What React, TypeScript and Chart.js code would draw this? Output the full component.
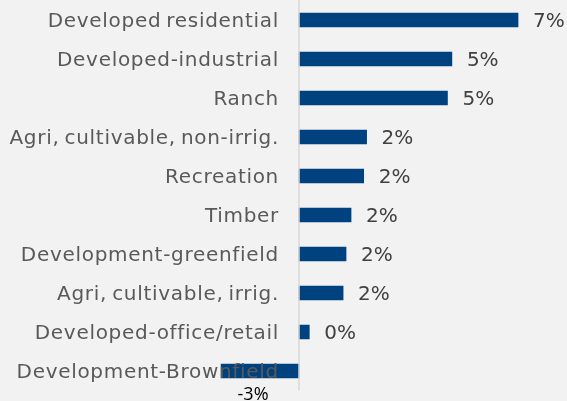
import React, { useEffect, useRef } from "react";
import { Chart, registerables } from "chart.js";

Chart.register(...registerables);

const categories = [
  "Developed residential",
  "Developed-industrial",
  "Ranch",
  "Agri, cultivable, non-irrig.",
  "Recreation",
  "Timber",
  "Development-greenfield",
  "Agri, cultivable, irrig.",
  "Developed-office/retail",
  "Development-Brownfield",
];
const changePct = [7.45, 5.2, 5.05, 2.3, 2.2, 1.77, 1.6, 1.5, 0.35, -2.65];
const xMin = -5;
const xMax = 9;

const BAR_COLOR = "#00427F";
const BG = "#f2f2f2";

const labelPlugin = {
  id: "customLabels",
  afterDatasetsDraw(chart: any) {
    const ctx = chart.ctx as any;
    const xs = chart.scales.x;
    const ys = chart.scales.y;
    const zero = xs.getPixelForValue(0);
    const area = chart.chartArea;
    ctx.save();
    // zero axis line
    ctx.strokeStyle = "#d9d9d9";
    ctx.lineWidth = 1.5;
    ctx.beginPath();
    ctx.moveTo(zero, 0);
    ctx.lineTo(zero, area.bottom);
    ctx.stroke();

    // category labels
    ctx.font = "20px 'DejaVu Sans'";
    ctx.fillStyle = "#595959";
    ctx.textAlign = "right";
    ctx.textBaseline = "alphabetic";
    ctx.letterSpacing = "0.7px";
    ctx.wordSpacing = "-2px";
    categories.forEach((c, i) => {
      ctx.fillText(c, zero - 20, ys.getPixelForValue(i) + 6.7);
    });
    ctx.letterSpacing = "0px";
    ctx.wordSpacing = "0px";

    // value labels
    changePct.forEach((v, i) => {
      const y = ys.getPixelForValue(i);
      const txt = Math.round(v) + "%";
      if (v >= 0) {
        ctx.font = "20px 'DejaVu Sans'";
        ctx.fillStyle = "#404040";
        ctx.textAlign = "left";
        ctx.fillText(txt, xs.getPixelForValue(v) + 15, y + 6.7);
      } else {
        ctx.font = "18px 'Open Sans'";
        ctx.fillStyle = "#000000";
        ctx.textAlign = "center";
        const cx = (xs.getPixelForValue(v) + zero) / 2 - 7;
        ctx.fillText(txt, cx, y + 29);
      }
    });
    ctx.restore();
  },
};

export default function App() {
  const canvasRef = useRef<HTMLCanvasElement | null>(null);

  useEffect(() => {
    document.body.style.margin = "0";
    document.body.style.background = BG;
    const canvas = canvasRef.current;
    if (!canvas) return;
    const chart = new Chart(canvas, {
      type: "bar",
      data: {
        labels: categories,
        datasets: [
          {
            data: changePct,
            backgroundColor: BAR_COLOR,
            borderWidth: 0,
            barThickness: 14,
          },
        ],
      },
      options: {
        indexAxis: "y",
        responsive: false,
        animation: false,
        devicePixelRatio: 1,
        layout: {
          padding: { left: 152, right: 3.4, top: 0.5, bottom: 10.5 },
        },
        plugins: {
          legend: { display: false },
          tooltip: { enabled: false },
        },
        scales: {
          x: { type: "linear", min: xMin, max: xMax, display: false },
          y: { type: "category", display: false },
        },
      },
      plugins: [labelPlugin],
    });
    return () => chart.destroy();
  }, []);

  return (
    <div
      style={{
        position: "fixed",
        left: 0,
        top: 0,
        width: 567,
        height: 401,
        background: BG,
      }}
    >
      <canvas ref={canvasRef} width={567} height={401} style={{ width: 567, height: 401 }} />
    </div>
  );
}
